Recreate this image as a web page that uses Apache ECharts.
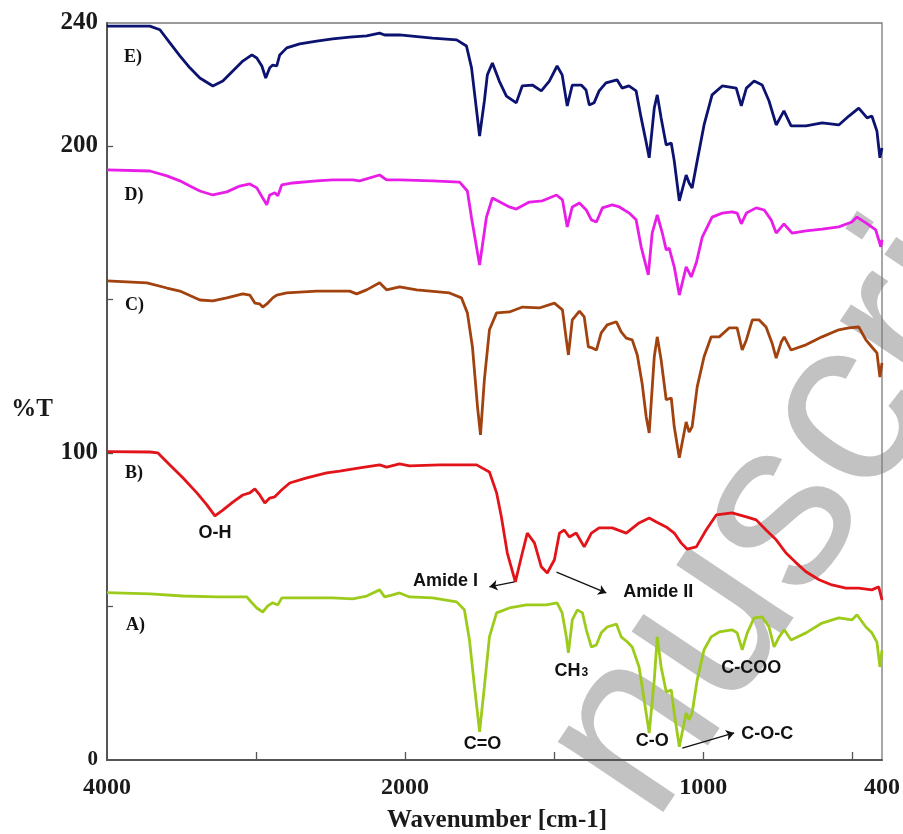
<!DOCTYPE html>
<html><head><meta charset="utf-8">
<script src="https://cdn.jsdelivr.net/npm/echarts@6.0.0/dist/echarts.min.js"></script>
<style>html,body{margin:0;padding:0;background:#fff}#c{width:903px;height:834px}</style>
</head><body><div id="c"></div>
<script>
// ---- data (wavenumber cm-1, %T) ----
const xTickLabels = [4000, 2000, 1000, 400];
const xTickMarks = [3000, 2000, 1500, 1000, 500];
const yTickLabels = [0, 100, 200, 240];
const yTickMarks = [50, 100, 150, 200];

const specE = [[4000,239.0],[3712,239.0],[3645,237.8],[3578,233.5],[3511,229.3],[3444,225.4],[3377,222.1],[3290,219.5],[3223,221.1],[3156,224.4],[3089,227.6],[3028,229.6],[2995,228.6],[2961,226.0],[2935,222.1],[2908,225.4],[2888,226.3],[2861,226.0],[2841,229.6],[2794,231.9],[2707,233.2],[2593,234.1],[2486,234.8],[2372,235.4],[2258,235.8],[2171,236.7],[2137,236.1],[2037,236.1],[1985,235.8],[1908,235.1],[1827,234.5],[1794,232.5],[1777,225.4],[1760,211.4],[1750,203.2],[1734,214.6],[1724,223.1],[1707,227.0],[1684,221.1],[1660,216.2],[1627,214.0],[1607,219.5],[1573,219.8],[1543,217.9],[1516,221.1],[1490,226.0],[1473,223.1],[1456,213.0],[1439,219.8],[1409,219.8],[1393,218.2],[1382,213.3],[1366,214.0],[1349,217.9],[1326,220.5],[1289,221.5],[1272,218.8],[1249,219.5],[1225,217.9],[1208,209.1],[1192,201.6],[1181,196.1],[1164,212.3],[1154,216.6],[1141,209.1],[1124,200.3],[1107,200.9],[1097,195.1],[1080,182.1],[1057,190.5],[1047,187.9],[1037,186.3],[1020,195.1],[997,206.8],[970,216.6],[936,219.5],[889,218.8],[872,213.0],[855,218.8],[829,221.1],[802,219.8],[779,214.6],[755,206.8],[729,211.4],[705,206.5],[655,206.5],[601,207.5],[545,206.8],[511,209.7],[478,212.3],[450,209.1],[434,209.7],[417,204.8],[407,196.1],[400,199.3]];

const specD = [[4000,192.2],[3712,191.8],[3598,190.2],[3511,188.6],[3444,186.9],[3377,185.3],[3290,184.0],[3196,185.0],[3109,186.9],[3042,187.6],[2995,186.3],[2955,183.0],[2928,180.8],[2908,184.0],[2874,184.7],[2854,183.7],[2827,187.3],[2754,187.9],[2593,188.6],[2486,188.9],[2352,188.9],[2305,188.6],[2171,190.5],[2124,188.9],[2037,188.9],[1908,188.6],[1817,188.2],[1791,185.3],[1777,176.5],[1750,161.2],[1727,176.8],[1707,183.0],[1650,180.1],[1627,179.4],[1583,181.7],[1539,182.1],[1492,184.0],[1472,182.4],[1456,173.6],[1439,180.1],[1415,181.4],[1392,179.1],[1375,175.9],[1358,175.2],[1338,179.8],[1305,180.8],[1281,180.1],[1248,178.1],[1225,175.9],[1208,167.1],[1184,158.0],[1171,171.6],[1154,177.5],[1137,171.6],[1124,166.1],[1114,166.7],[1097,160.6],[1080,151.4],[1057,160.6],[1040,157.3],[1023,161.9],[1003,170.3],[970,176.8],[936,178.1],[903,178.5],[886,178.1],[872,174.6],[855,178.1],[822,179.8],[795,179.1],[772,175.9],[755,171.6],[729,174.6],[702,171.6],[655,172.3],[601,172.9],[545,173.6],[501,175.2],[484,176.8],[454,174.9],[421,172.6],[404,167.1],[400,169.4]];

const specC = [[4000,156.0],[3732,155.4],[3598,153.7],[3511,152.7],[3377,149.8],[3290,149.5],[3196,150.5],[3089,151.8],[3042,151.4],[3008,148.8],[2975,148.5],[2955,147.5],[2921,148.8],[2888,150.5],[2861,151.4],[2794,152.1],[2593,152.7],[2372,152.7],[2325,151.8],[2258,153.1],[2171,155.4],[2124,153.1],[2037,154.1],[1961,153.1],[1851,152.1],[1811,150.5],[1791,145.6],[1774,134.5],[1757,115.0],[1747,105.9],[1734,123.8],[1717,140.1],[1693,145.6],[1650,145.9],[1606,147.5],[1550,147.2],[1499,148.8],[1472,146.6],[1459,136.8],[1452,131.9],[1439,143.3],[1415,146.2],[1399,144.3],[1385,134.5],[1372,134.2],[1358,133.5],[1342,139.1],[1322,141.7],[1291,142.7],[1275,139.4],[1258,137.4],[1238,136.8],[1221,131.9],[1205,122.8],[1191,111.7],[1181,106.5],[1164,131.3],[1154,137.8],[1141,130.3],[1124,117.3],[1107,117.9],[1097,108.5],[1080,98.4],[1057,110.1],[1047,106.8],[1037,108.5],[1020,121.5],[997,131.3],[973,137.8],[946,137.8],[913,140.7],[886,140.7],[869,133.5],[855,136.8],[835,143.3],[812,143.3],[789,141.0],[769,135.8],[755,130.9],[738,136.1],[728,137.8],[705,133.5],[655,135.2],[601,137.8],[545,140.1],[511,140.7],[478,141.0],[454,136.8],[434,134.5],[417,132.6],[407,124.7],[400,129.3]];

const specB = [[4000,100.4],[3712,100.3],[3658,100.0],[3578,96.1],[3491,91.9],[3397,87.0],[3330,83.1],[3276,79.5],[3223,81.4],[3156,84.0],[3089,86.3],[3042,87.0],[3008,88.3],[2975,86.3],[2941,83.7],[2908,85.3],[2874,85.7],[2827,88.0],[2774,90.2],[2660,91.9],[2526,93.5],[2439,94.1],[2305,95.1],[2171,96.1],[2124,95.4],[2037,96.4],[1985,95.8],[1884,96.1],[1760,96.1],[1717,93.8],[1693,87.0],[1677,79.2],[1657,67.4],[1630,58.0],[1610,66.1],[1590,73.9],[1566,70.7],[1543,62.9],[1523,60.9],[1499,65.2],[1482,73.9],[1466,74.9],[1449,72.6],[1426,73.9],[1399,69.4],[1375,73.9],[1349,75.6],[1305,75.6],[1258,73.9],[1215,77.2],[1181,78.8],[1157,77.5],[1124,75.9],[1097,73.9],[1074,70.7],[1054,68.7],[1023,69.4],[990,74.9],[956,79.8],[903,80.5],[855,79.2],[822,78.2],[789,74.9],[755,71.7],[722,67.4],[688,64.2],[655,61.3],[611,58.7],[568,57.0],[521,56.0],[478,56.0],[434,55.4],[411,56.4],[400,52.1]];

const specA = [[4000,54.5],[3712,54.1],[3491,53.4],[3263,53.1],[3062,53.1],[3028,51.2],[2995,49.5],[2955,48.2],[2921,50.2],[2888,51.2],[2854,50.5],[2827,52.8],[2707,52.8],[2486,52.8],[2352,52.5],[2258,53.4],[2171,55.4],[2137,53.1],[2083,53.8],[2037,54.4],[1985,53.1],[1908,52.8],[1827,51.5],[1801,48.9],[1784,39.1],[1767,23.8],[1750,9.2],[1734,23.8],[1717,40.1],[1693,47.9],[1650,49.5],[1593,50.5],[1526,50.5],[1490,51.2],[1473,47.9],[1459,40.1],[1452,34.9],[1439,45.6],[1422,48.9],[1405,47.9],[1392,42.4],[1375,36.8],[1358,37.5],[1342,41.4],[1322,43.3],[1291,44.3],[1275,40.1],[1255,38.5],[1238,36.8],[1215,30.3],[1198,19.6],[1181,8.8],[1164,26.1],[1154,40.1],[1141,30.3],[1124,22.2],[1107,22.8],[1097,15.3],[1080,4.3],[1057,15.3],[1047,13.1],[1037,15.3],[1020,26.1],[997,35.9],[973,40.1],[946,41.7],[903,42.4],[886,41.4],[869,35.9],[852,41.4],[829,46.3],[802,46.6],[779,43.3],[762,36.8],[745,40.1],[728,42.4],[705,39.1],[655,41.4],[601,44.6],[545,46.3],[501,45.6],[484,47.3],[454,43.3],[434,41.4],[417,38.4],[407,30.3],[400,35.8]];

const sampleLabels = [['E)',3826,228.9],['D)',3819,184.0],['C)',3816,148.2],['B)',3819,93.2],['A)',3809,44.0]];
const bandLabels = [['O-H',3276,73.9],['Amide I',1864,58.3],['Amide II',1151,54.7],['CH3',1442,29.3],['C-COO',839,30.0],['C=O',1740,5.2],['C-O',1171,6.2],['C-O-C',785,8.5]];
const arrowLines = [[[1633,58.0],[1717,56.4]],[[1492,61.2],[1325,54.4]],[[1070,3.9],[896,8.8]]];

// ---- broken wavenumber scale: 4000-2000 at half the scale of 2000-400 ----
function toAxis(w){ return w >= 2000 ? (4000 - w) / 2 : 1000 + (2000 - w); }
function fromAxis(t){ return Math.round(t <= 1000 ? 4000 - 2 * t : 3000 - t); }
const mk = arr => arr.map(p => [toAxis(p[0]), p[1]]);

const serif = '"Liberation Serif","Times New Roman",serif';
const sans = '"Liberation Sans",Arial,sans-serif';

const chart = echarts.init(document.getElementById('c'), null, {renderer: 'canvas'});

function line(name, data, color){
  return {type:'line', name, data: mk(data), showSymbol:false, symbol:'none', silent:true,
    animation:false, lineStyle:{color, width:2.8}, itemStyle:{color}, z:2};
}

const markPts = [];
sampleLabels.forEach(s => markPts.push({name:s[0], coord:[toAxis(s[1]), s[2]],
  label:{fontFamily:serif, fontSize:18, fontWeight:'bold', color:'#111'}}));
bandLabels.forEach(s => {
  const item = {name:s[0], coord:[toAxis(s[1]), s[2]]};
  if (s[0] === 'CH3') {
    item.label = {formatter:'{m|CH}{s|3}', rich:{
      m:{fontFamily:sans, fontSize:18, fontWeight:'bold', color:'#111', lineHeight:20, verticalAlign:'bottom'},
      s:{fontFamily:sans, fontSize:12, fontWeight:'bold', color:'#111', lineHeight:20, verticalAlign:'bottom', padding:[0,0,1,1]}}};
  }
  markPts.push(item);
});

const seriesA = line('A)', specA, '#9dcb1c');
seriesA.markPoint = {silent:true, animation:false, symbol:'circle', symbolSize:1,
  itemStyle:{color:'rgba(0,0,0,0)'},
  label:{show:true, position:'inside', formatter:'{b}', fontFamily:sans, fontWeight:'bold', fontSize:18, color:'#111'},
  data: markPts};
seriesA.markLine = {silent:true, animation:false, symbol:['none','arrow'], symbolSize:8,
  label:{show:false}, lineStyle:{color:'#111', width:1.3, type:'solid'},
  data: arrowLines.map(a => [{coord:[toAxis(a[0][0]), a[0][1]]}, {coord:[toAxis(a[1][0]), a[1][1]]}])};

chart.setOption({
  backgroundColor:'#ffffff',
  animation:false,
  grid:{left:107, right:20, top:23, bottom:74, show:true, borderColor:'#7a7a7a', borderWidth:1.3, backgroundColor:'transparent'},
  xAxis:{type:'value', min:0, max:toAxis(400),
    axisLine:{show:true, onZero:false, lineStyle:{color:'#555', width:2}},
    splitLine:{show:false},
    axisTick:{show:true, inside:true, length:8, lineStyle:{color:'#555', width:1.3}, customValues: xTickMarks.map(toAxis)},
    axisLabel:{show:true, margin:16, customValues: xTickLabels.map(toAxis), formatter: v => String(fromAxis(v)),
      fontFamily:serif, fontWeight:'bold', fontSize:24, color:'#1a1a1a'}},
  yAxis:{type:'value', min:0, max:240,
    axisLine:{show:true, onZero:false, lineStyle:{color:'#555', width:2}},
    splitLine:{show:false},
    axisTick:{show:true, inside:true, length:6, lineStyle:{color:'#555', width:1.3}, customValues: yTickMarks},
    axisLabel:{show:true, margin:9, customValues: yTickLabels,
      formatter: v => v === 0 ? '{s|0}' : String(v),
      rich:{s:{fontFamily:serif, fontWeight:'bold', fontSize:21, color:'#1a1a1a'}},
      fontFamily:serif, fontWeight:'bold', fontSize:25, color:'#1a1a1a'}},
  series:[
    line('E)', specE, '#0b1270'),
    line('D)', specD, '#e81ee8'),
    line('C)', specC, '#a2420f'),
    line('B)', specB, '#e2141a'),
    seriesA
  ],
  graphic:[
    {type:'text', x:32, y:410, style:{text:'%T', font:'bold 25px ' + serif, fill:'#1a1a1a', align:'center', verticalAlign:'middle', textAlign:'center', textVerticalAlign:'middle'}},
    {type:'text', x:497, y:821, style:{text:'Wavenumber [cm-1]', font:'bold 25px ' + serif, fill:'#1a1a1a', align:'center', verticalAlign:'middle', textAlign:'center', textVerticalAlign:'middle'}},
    {type:'text', x:833, y:440, rotation:0.98, z:-10, silent:true,
      style:{text:'nuscript', font:'240px ' + sans, fill:'#c2c2c2', align:'center', verticalAlign:'middle', textAlign:'center', textVerticalAlign:'middle'}}
  ]
});
</script></body></html>
